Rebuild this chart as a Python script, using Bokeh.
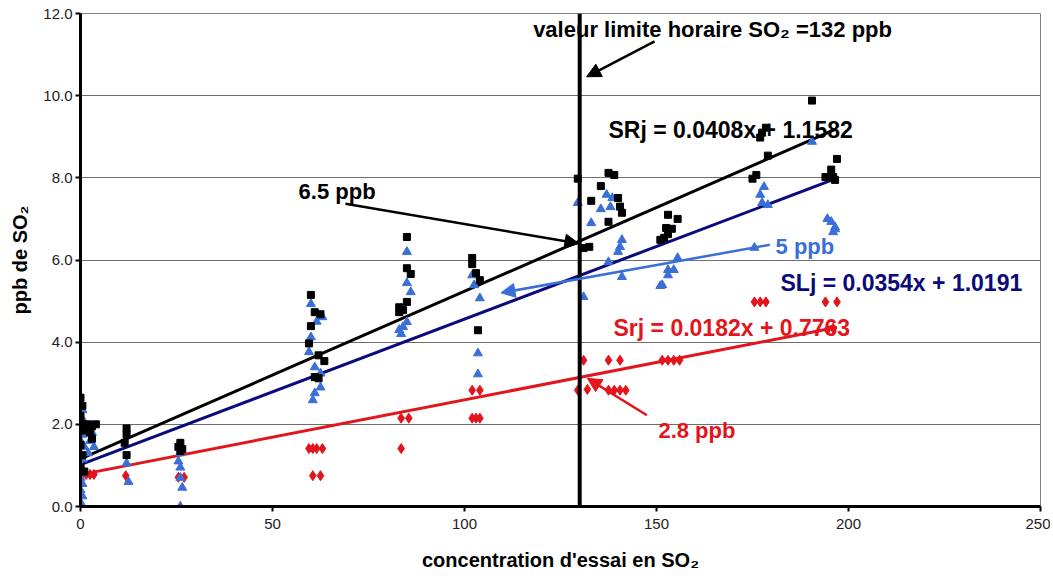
from bokeh.plotting import figure
from bokeh.models import (Range1d, FixedTicker, NumeralTickFormatter, Span, Arrow,
                          NormalHead, Label)
from bokeh.embed import file_html
from bokeh.resources import INLINE

# ---------------- data ----------------
x_ticks = [0, 50, 100, 150, 200, 250]
y_ticks = [0, 2, 4, 6, 8, 10, 12]

# SRj (black squares)
srj_x = [0, 0.5, 0, 0.5, 1, 0, 0.5, 0, 1, 2, 3, 2.5, 4, 3,
         12, 12, 11.5, 12, 26, 25.5, 26.5, 26,
         60, 61, 62.5, 60, 59.5, 62, 63.5, 61, 62,
         85, 85, 86, 85, 84, 83, 83,
         102, 102, 103, 104, 103.5,
         129.5, 137.5, 139, 135.5, 133, 140, 140.5, 141, 137.5, 131, 132.5,
         153, 155.5, 152.5, 154, 153, 151, 152,
         175, 176, 179, 177, 177.5, 178.5, 190.5,
         197, 195.5, 194, 196, 196.5]
srj_y = [2.65, 2.45, 2.2, 2.0, 1.85, 1.5, 1.25, 0.95, 0.85, 2.0, 1.95, 1.8, 2.0, 1.65,
         1.9, 1.75, 1.55, 1.25, 1.55, 1.45, 1.4, 1.35,
         5.15, 4.73, 4.68, 4.39, 3.97, 3.68, 3.54, 3.15, 3.12,
         6.56, 5.8, 5.66, 4.98, 4.78, 4.85, 4.73,
         6.05, 5.9, 5.68, 5.51, 4.29,
         7.98, 8.12, 8.07, 7.8, 7.44, 7.51, 7.3, 7.15, 6.93, 6.29, 6.32,
         7.1, 7.0, 6.78, 6.76, 6.63, 6.49, 6.54,
         7.98, 8.07, 8.54, 8.98, 9.1, 9.22, 9.88,
         8.46, 8.2, 8.02, 8.02, 7.95]

# SLj (blue triangles)
slj_x = [0, 0.5, 0, 1, 0, 0.5, 0, 1, 0, 0.5, 0, 0.5, 0, 0.5, 0, 0.5, 0, 0,
         2, 3, 2.5, 3.5, 2,
         12, 12.5, 26, 25.5, 26, 26, 26.5, 26,
         60, 63, 61.5, 60, 59.5, 61, 62.5, 62.5, 61, 60.5,
         85, 85, 86, 85, 84, 83.5, 83,
         102, 102.5, 104, 103.5, 103.5,
         129.5, 137, 138.5, 135.5, 138, 133, 141, 140.5, 140, 141, 131, 137.5,
         155.5, 153, 154.5, 153, 151.5, 151,
         178, 177, 177.5, 179, 175.5, 190.5,
         195.5, 196.5, 196, 194.5, 196.5]
slj_y = [2.55, 2.35, 2.2, 2.05, 1.9, 1.75, 1.6, 1.45, 1.3, 1.15, 1.0, 0.85, 0.7, 0.55, 0.4, 0.25, 0.1, 0.0,
         1.95, 1.8, 1.6, 1.45, 1.3,
         1.05, 0.6, 1.3, 1.1, 0.95, 0.7, 0.46, 0.0,
         4.93, 4.61, 4.5, 4.12, 3.76, 3.39, 3.24, 2.9, 2.76, 2.59,
         6.2, 5.44, 5.22, 4.49, 4.37, 4.2, 4.3,
         5.63, 5.39, 5.07, 3.73, 3.22,
         7.39, 7.59, 7.51, 7.24, 7.29, 6.9, 6.49, 6.32, 6.2, 5.59, 5.1, 5.95,
         6.05, 5.76, 5.76, 5.63, 5.39, 5.37,
         7.78, 7.59, 7.39, 7.34, 6.3, 8.88,
         6.93, 6.8, 6.68, 7.0, 6.75]

# Srj (red diamonds)
srj2_x = [0.5, 1.5, 2.5, 3.5, 11.8, 25.5, 27,
          59.5, 60.5, 61.5, 63, 60.5, 62.5,
          83.5, 85.5, 83.5,
          102, 104, 102, 103, 104,
          131, 137.5, 140.5, 129.5, 132, 137.5, 139, 140.5, 142,
          151.5, 153, 154.5, 156,
          175.5, 177, 178.5, 194, 197, 194.5, 196]
srj2_y = [0.78, 0.78, 0.78, 0.78, 0.75, 0.71, 0.71,
          1.41, 1.41, 1.41, 1.41, 0.75, 0.75,
          2.15, 2.15, 1.41,
          2.83, 2.83, 2.15, 2.15, 2.15,
          3.56, 3.56, 3.56, 2.83, 2.85, 2.83, 2.83, 2.83, 2.83,
          3.56, 3.56, 3.56, 3.56,
          4.98, 4.98, 4.98, 4.98, 4.98, 4.3, 4.34]

# trendlines (equations printed on the chart)
trend_names = ["SRj", "SLj", "Srj"]
trend_slope = [0.0408, 0.0354, 0.0182]
trend_icpt = [1.1582, 1.0191, 0.7763]
trend_x_end = [197, 197, 197]

LIMIT_X = 130

FONT = "Liberation Sans"
BLUE = "#3b6fd8"
NAVY = "#0a0a7a"
RED = "#e3141b"

p = figure(width=1050, height=575, x_range=Range1d(0, 250), y_range=Range1d(0, 12),
           output_backend="svg", toolbar_location=None,
           min_border_left=80, min_border_right=10, min_border_top=13, min_border_bottom=69,
           background_fill_color="white", border_fill_color="white")
p.outline_line_color = "#808080"
p.outline_line_width = 1

p.xgrid.visible = False
p.ygrid.ticker = FixedTicker(ticks=y_ticks)
p.ygrid.grid_line_color = "#6e6e6e"
p.ygrid.grid_line_width = 1

p.xaxis.ticker = FixedTicker(ticks=x_ticks)
p.yaxis.ticker = FixedTicker(ticks=y_ticks)
p.yaxis.formatter = NumeralTickFormatter(format="0.0")
for ax in (p.xaxis[0], p.yaxis[0]):
    ax.axis_line_width = 3
    ax.axis_line_color = "black"
    ax.major_tick_line_color = "black"
    ax.major_tick_line_width = 2
    ax.major_tick_out = 5
    ax.major_tick_in = 0
    ax.minor_tick_line_color = None
    ax.major_label_text_font = FONT
    ax.major_label_text_font_size = "15px"
    ax.major_label_text_color = "#222222"
    ax.axis_label_text_font = FONT
    ax.axis_label_text_font_style = "bold"
    ax.axis_label_text_font_size = "20px"
    ax.axis_label_text_color = "black"

p.xaxis.axis_label = "concentration d'essai en SO\u2082"
p.xaxis.major_label_standoff = 7
p.xaxis.axis_label_standoff = 17
p.yaxis.axis_label = "ppb de SO\u2082"
p.yaxis.major_label_standoff = 3
p.yaxis.axis_label_standoff = 9

# trendlines
trend_colors = ["black", NAVY, RED]
for s, b, xe, c in zip(trend_slope, trend_icpt, trend_x_end, trend_colors):
    p.line([0, xe], [b, b + s * xe], line_color=c, line_width=3)

# points
p.scatter(srj2_x, srj2_y, marker="diamond", size=10, color=RED)
p.scatter(slj_x, slj_y, marker="triangle", size=9, color=BLUE)
p.scatter(srj_x, srj_y, marker="square", size=7, color="black")

# limit line
p.add_layout(Span(location=LIMIT_X, dimension="height", line_color="black", line_width=4))

# arrows
arrows = [
    ((149.5, 11.32), (131.8, 10.46), "black"),
    ((69.0, 7.37), (129.8, 6.4), "black"),
    ((179.5, 6.37), (109.5, 5.2), BLUE),
    ((147.5, 2.22), (132.0, 3.12), RED),
]
for (xs, ys), (xe, ye), c in arrows:
    p.add_layout(Arrow(end=NormalHead(size=14, fill_color=c, line_color=c),
                       x_start=xs, y_start=ys, x_end=xe, y_end=ye,
                       line_color=c, line_width=2.5))

labels = [
    ("valeur limite horaire SO\u2082 =132 ppb", 164.6, 11.61, "center", "black", "22px"),
    ("SRj = 0.0408x + 1.1582", 137.5, 9.17, "left", "black", "23px"),
    ("6.5 ppb", 56.8, 7.66, "left", "black", "22px"),
    ("5 ppb", 181.0, 6.34, "left", BLUE, "22px"),
    ("SLj = 0.0354x + 1.0191", 182.3, 5.44, "left", NAVY, "23px"),
    ("Srj = 0.0182x + 0.7763", 138.8, 4.34, "left", RED, "23px"),
    ("2.8 ppb", 150.5, 1.85, "left", RED, "22px"),
]
for t, x, y, al, c, fs in labels:
    p.add_layout(Label(x=x, y=y, text=t, text_align=al, text_baseline="middle",
                       text_color=c, text_font=FONT, text_font_style="bold",
                       text_font_size=fs))

open("out.html", "w").write(file_html(p, INLINE))
